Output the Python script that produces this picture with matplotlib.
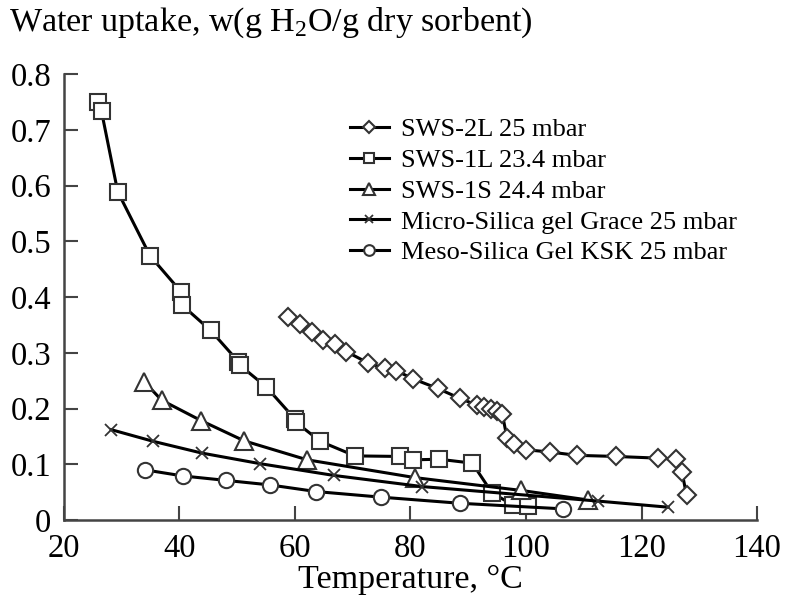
import numpy as np
import matplotlib
matplotlib.use('Agg')
import matplotlib.pyplot as plt

plt.rcParams['font.family'] = ['Liberation Serif', 'DejaVu Serif']
plt.rcParams['mathtext.fontset'] = 'custom'
plt.rcParams['mathtext.rm'] = 'Liberation Serif'

# SWS-2L 25 mbar
t_2l = [58.8, 60.8, 63.0, 64.9, 67.0, 68.9, 72.6, 75.5, 77.5, 80.5, 84.7, 88.6,
        91.5, 92.8, 93.9, 95.0, 95.9, 96.7, 98.0, 100.0, 104.1, 108.8, 115.6,
        122.8, 126.0, 127.0, 127.8]
w_2l = [0.364, 0.352, 0.338, 0.323, 0.316, 0.302, 0.282, 0.272, 0.268, 0.253,
        0.236, 0.218, 0.206, 0.203, 0.200, 0.196, 0.190, 0.148, 0.136, 0.126,
        0.122, 0.116, 0.114, 0.111, 0.109, 0.087, 0.044]

# SWS-1L 23.4 mbar
t_1l = [25.9, 26.5, 29.3, 34.9, 40.3, 40.5, 45.4, 50.2, 50.4, 55.0, 60.0, 60.2,
        64.4, 70.4, 78.2, 80.5, 85.0, 90.7, 94.1, 97.7, 100.4]
w_1l = [0.749, 0.733, 0.589, 0.474, 0.409, 0.385, 0.340, 0.284, 0.278, 0.239,
        0.181, 0.175, 0.141, 0.115, 0.114, 0.108, 0.109, 0.102, 0.049, 0.027, 0.025]

# SWS-1S 24.4 mbar
t_1s = [33.9, 36.9, 43.8, 51.2, 62.1, 80.8, 99.2, 110.7]
w_1s = [0.248, 0.215, 0.178, 0.142, 0.108, 0.076, 0.053, 0.036]

# Micro-Silica gel Grace 25 mbar
t_mi = [28.2, 35.5, 43.9, 54.0, 66.7, 82.0, 112.4, 124.6]
w_mi = [0.162, 0.141, 0.120, 0.101, 0.080, 0.060, 0.034, 0.023]

# Meso-Silica Gel KSK 25 mbar
t_me = [34.0, 40.6, 48.1, 55.6, 63.7, 74.9, 88.6, 106.4]
w_me = [0.090, 0.079, 0.071, 0.063, 0.051, 0.041, 0.030, 0.020]

fig = plt.figure(figsize=(7.87, 5.96), dpi=100)
ax = fig.add_axes([0.0813, 0.1275, 0.8806, 0.7483])

edge = '#333333'
common = dict(color='black', lw=2.2, mfc='white', mec=edge, mew=1.5)
ax.plot(t_2l, w_2l, marker='D', ms=9, label='SWS-2L 25 mbar', **common)
ax.plot(t_1l, w_1l, marker='s', ms=11, label='SWS-1L 23.4 mbar', **common)
ax.plot(t_1s, w_1s, marker='^', ms=13, label='SWS-1S 24.4 mbar', **common)
ax.plot(t_mi, w_mi, marker='x', ms=8, color='black', lw=2.2, mec=edge, mew=1.3,
        label='Micro-Silica gel Grace 25 mbar')
ax.plot(t_me, w_me, marker='o', ms=11, label='Meso-Silica Gel KSK 25 mbar', **common)

ax.set_xlim(20, 140)
ax.set_ylim(0, 0.8)
ax.set_xticks(np.arange(20, 141, 20))
ax.set_yticks(np.arange(0, 0.81, 0.1))
ax.set_yticklabels(['0', '0.1', '0.2', '0.3', '0.4', '0.5', '0.6', '0.7', '0.8'])
ax.tick_params(direction='in', length=10, width=1.5, colors='#444444',
               labelcolor='black', labelsize=23.5)
ax.tick_params(axis='x', pad=10)
ax.tick_params(axis='y', pad=9)
for s in ['top', 'right']:
    ax.spines[s].set_visible(False)
for s in ['left', 'bottom']:
    ax.spines[s].set_linewidth(1.8)
    ax.spines[s].set_color('#444444')

ax.set_xlabel('Temperature, °C', fontsize=24.5, labelpad=0)
fig.text(0.012, 0.99, 'Water uptake, w(g H$_2$O/g dry sorbent)', fontsize=24.5,
         ha='left', va='top')

leg = ax.legend(loc='upper left', bbox_to_anchor=(0.397, 0.926), frameon=False,
                borderaxespad=0, fontsize=19, handlelength=1.5, handletextpad=0.45,
                labelspacing=0.28, markerscale=0.7)

fig.savefig('out.png', dpi=100)
